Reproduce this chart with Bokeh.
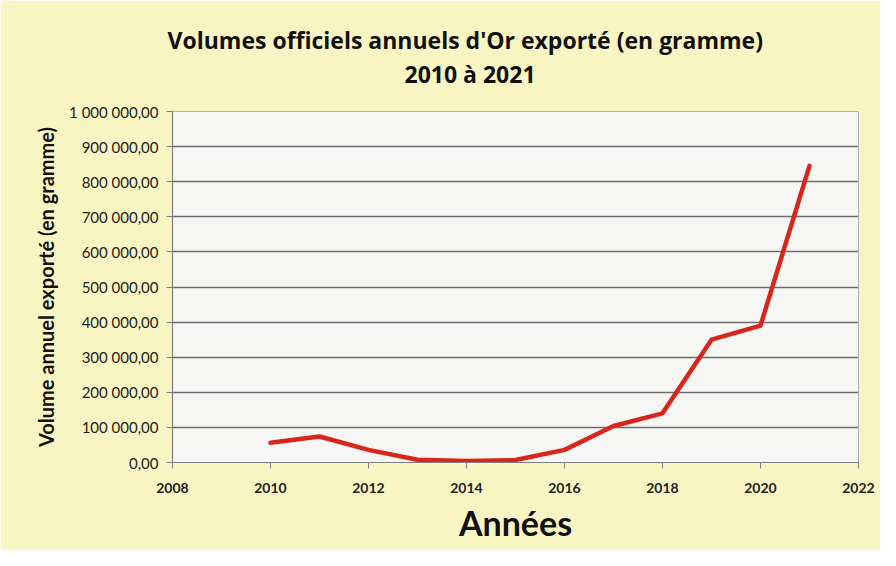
from bokeh.plotting import figure
from bokeh.models import Range1d, FixedTicker, CustomJSTickFormatter, Title
from bokeh.embed import file_html
from bokeh.resources import INLINE

years = [2010, 2011, 2012, 2013, 2014, 2015, 2016, 2017, 2018, 2019, 2020, 2021]
volumes = [56000, 74000, 36000, 8000, 4000, 7000, 36000, 104000, 140000, 350000, 390000, 845000]

x_ticks = [2008, 2010, 2012, 2014, 2016, 2018, 2020, 2022]
y_ticks = [0, 100000, 200000, 300000, 400000, 500000, 600000, 700000, 800000, 900000, 1000000]

title_line1 = "Volumes officiels annuels d'Or exporté (en gramme)"
title_line2 = "2010 à 2021"
x_label = "Années"
y_label = "Volume annuel exporté (en gramme)"

FONT = "Lato"
TFONT = "Open Sans"
BG = "#F8F5C2"

p = figure(width=880, height=550, output_backend="svg", toolbar_location=None,
           x_range=Range1d(2008, 2022), y_range=Range1d(0, 1000000),
           min_border_left=172, min_border_right=22, min_border_top=111, min_border_bottom=88)

p.background_fill_color = "#F6F6F4"
p.border_fill_color = BG
p.outline_line_color = "#B0B0B0"

p.line(years, volumes, line_color="#D8261C", line_width=4.5, line_join="round", line_cap="round")

p.xgrid.grid_line_color = None
p.ygrid.grid_line_color = "#6E6E6E"
p.ygrid.grid_line_width = 1.3

p.xaxis.ticker = FixedTicker(ticks=x_ticks)
p.yaxis.ticker = FixedTicker(ticks=y_ticks)
p.yaxis.formatter = CustomJSTickFormatter(code="""
const s = tick.toFixed(2);
const parts = s.split('.');
return parts[0].replace(/\\B(?=(\\d{3})+(?!\\d))/g, ' ') + ',' + parts[1];
""")

for ax in (p.xaxis[0], p.yaxis[0]):
    ax.axis_line_color = "#808080"
    ax.axis_line_width = 1.2
    ax.major_tick_line_color = "#808080"
    ax.major_tick_in = 0
    ax.major_tick_out = 6
    ax.minor_tick_line_color = None
    ax.major_label_text_font = FONT
    ax.major_label_text_color = "#222222"

p.xaxis.major_label_text_font_size = "14px"
p.yaxis.major_label_text_font_size = "15px"
p.xaxis.major_label_text_font_style = "bold"
p.xaxis.major_label_standoff = 14
p.yaxis.major_label_standoff = 8

p.xaxis.axis_label = x_label
p.xaxis.axis_label_text_font = FONT
p.xaxis.axis_label_text_font_size = "34px"
p.xaxis.axis_label_text_font_style = "bold"
p.xaxis.axis_label_text_color = "#111111"
p.xaxis.axis_label_standoff = 6

p.yaxis.axis_label = y_label
p.yaxis.axis_label_text_font = FONT
p.yaxis.axis_label_text_font_size = "20px"
p.yaxis.axis_label_text_font_style = "bold"
p.yaxis.axis_label_text_color = "#111111"
p.yaxis.axis_label_standoff = 8

# spacer between frame and title lines (first added sits closest to the frame)
p.add_layout(Title(text=" ", text_font_size="1px", standoff=19), "above")
p.add_layout(Title(text=title_line2, align="left", offset=232, text_font=TFONT,
                   text_font_size="23px", text_font_style="bold", text_color="#111111",
                   standoff=0), "above")
p.add_layout(Title(text=title_line1, align="left", offset=-5, text_font=TFONT,
                   text_font_size="23px", text_font_style="bold", text_color="#111111",
                   standoff=0), "above")

open("out.html", "w").write(file_html(p, INLINE))
